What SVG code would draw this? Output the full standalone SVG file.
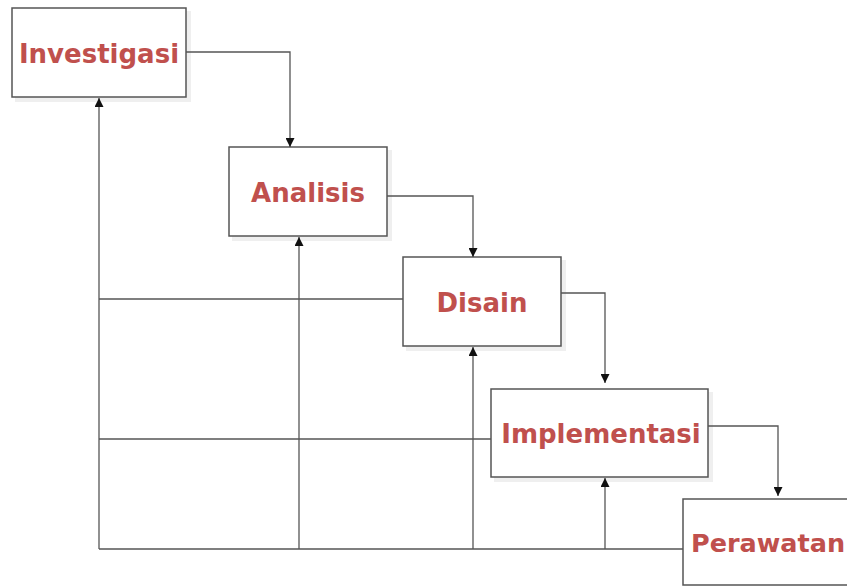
<svg xmlns="http://www.w3.org/2000/svg" width="847" height="586" viewBox="0 0 847 586">
<style>
.box{fill:#ffffff;stroke:#555555;stroke-width:1.5}
.sh{fill:#efefef}
.lbl{font-family:"DejaVu Sans",Verdana,sans-serif;font-weight:bold;font-size:26px;fill:#c0504d}
.ln{fill:none;stroke:#555555;stroke-width:1.3}
.ar{fill:none;stroke:#555555;stroke-width:1.3;marker-end:url(#ah)}
</style>
<defs>
<marker id="ah" viewBox="0 0 10 10" refX="10" refY="5" markerWidth="9" markerHeight="9" markerUnits="userSpaceOnUse" orient="auto">
<path d="M0,0 L10,5 L0,10 Z" fill="#111111"/>
</marker>
</defs>
<rect width="847" height="586" fill="#ffffff"/>
<g id="investigasi">
<rect class="sh" x="15" y="11" width="176" height="91"/>
<rect class="box" x="12" y="8" width="174" height="89"/>
<text class="lbl" x="99" y="63" text-anchor="middle">Investigasi</text>
</g>
<g id="analisis">
<rect class="sh" x="232" y="150" width="160" height="91"/>
<rect class="box" x="229" y="147" width="158" height="89"/>
<text class="lbl" x="308" y="202" text-anchor="middle">Analisis</text>
</g>
<g id="disain">
<rect class="sh" x="406" y="260" width="160" height="91"/>
<rect class="box" x="403" y="257" width="158" height="89"/>
<text class="lbl" x="482" y="312" text-anchor="middle">Disain</text>
</g>
<g id="implementasi">
<rect class="sh" x="494" y="392" width="219" height="90"/>
<rect class="box" x="491" y="389" width="217" height="88"/>
<text class="lbl" x="601" y="443" text-anchor="middle">Implementasi</text>
</g>
<g id="perawatan">
<rect class="box" x="683" y="499" width="180" height="86"/>
<text class="lbl" x="691" y="552" style="font-size:25.5px">Perawatan</text>
</g>
<g id="connectors">
<polyline class="ar" points="186,52 290,52 290,147"/>
<polyline class="ar" points="387,196 473,196 473,257"/>
<polyline class="ar" points="561,293 605,293 605,383"/>
<polyline class="ar" points="708,426 778,426 778,496"/>
<polyline class="ln" points="683,549 99,549"/>
<polyline class="ar" points="99,549 99,98"/>
<polyline class="ln" points="99,299 403,299"/>
<polyline class="ln" points="99,439 491,439"/>
<polyline class="ar" points="299,549 299,237"/>
<polyline class="ar" points="473,549 473,347"/>
<polyline class="ar" points="605,549 605,478"/>
</g>
</svg>
